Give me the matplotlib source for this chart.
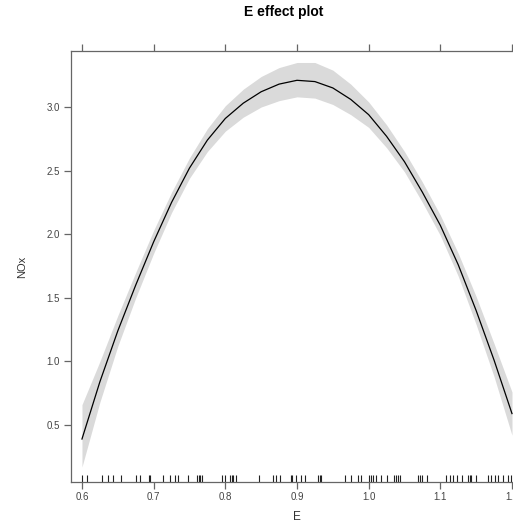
import matplotlib
matplotlib.use("Agg")
import matplotlib.pyplot as plt

plt.rcParams["font.family"] = ["Liberation Sans", "DejaVu Sans"]

# effet de E sur NOx
e_vals = [0.600, 0.625, 0.650, 0.675, 0.700, 0.725, 0.750, 0.775, 0.800,
          0.825, 0.850, 0.875, 0.900, 0.925, 0.950, 0.975, 1.000, 1.025,
          1.050, 1.075, 1.100, 1.125, 1.150, 1.175, 1.200]
nox_fit = [0.39, 0.84, 1.24, 1.60, 1.94, 2.25, 2.52, 2.74, 2.91,
           3.03, 3.12, 3.18, 3.21, 3.20, 3.15, 3.06, 2.94, 2.77,
           2.57, 2.33, 2.07, 1.76, 1.40, 1.01, 0.59]
nox_lower = [0.17, 0.68, 1.12, 1.50, 1.85, 2.17, 2.44, 2.65, 2.81,
             2.92, 3.00, 3.05, 3.08, 3.07, 3.02, 2.94, 2.84, 2.68,
             2.49, 2.25, 1.99, 1.67, 1.29, 0.88, 0.42]
nox_upper = [0.66, 1.00, 1.36, 1.70, 2.03, 2.33, 2.60, 2.83, 3.01,
             3.14, 3.24, 3.31, 3.35, 3.35, 3.29, 3.18, 3.04, 2.86,
             2.65, 2.41, 2.15, 1.85, 1.51, 1.14, 0.76]

# observations (rug)
rug_e = [0.600, 0.607, 0.628, 0.636, 0.644, 0.655, 0.675, 0.681, 0.693,
         0.695, 0.713, 0.723, 0.730, 0.734, 0.748, 0.761, 0.763, 0.765,
         0.767, 0.796, 0.799, 0.807, 0.809, 0.811, 0.815, 0.847, 0.867,
         0.871, 0.877, 0.891, 0.893, 0.899, 0.905, 0.911, 0.930, 0.932,
         0.934, 0.967, 0.976, 0.985, 0.990, 1.001, 1.003, 1.006, 1.010,
         1.017, 1.026, 1.035, 1.038, 1.041, 1.044, 1.069, 1.071, 1.074,
         1.081, 1.108, 1.113, 1.118, 1.123, 1.130, 1.139, 1.141, 1.143,
         1.150, 1.167, 1.171, 1.176, 1.181, 1.188, 1.195, 1.199]

x_ticks = [0.6, 0.7, 0.8, 0.9, 1.0, 1.1, 1.2]
y_ticks = [0.5, 1.0, 1.5, 2.0, 2.5, 3.0]

fig = plt.figure(figsize=(5.13, 5.29), dpi=100)
# l'axe depasse a droite comme dans l'image d'origine (recadree)
ax = fig.add_axes([0.1384, 0.0888, 0.881, 0.8147])

ax.fill_between(e_vals, nox_lower, nox_upper, color="#dadada", linewidth=0)
ax.plot(e_vals, nox_fit, color="black", linewidth=0.9)
ax.vlines(rug_e, 0, 0.016, transform=ax.get_xaxis_transform(),
          color="#222222", linewidth=0.8)

ax.set_xlim(0.5847, 1.2153)
ax.set_ylim(0.052, 3.44)
ax.set_xticks(x_ticks)
ax.set_xticklabels(["0.6", "0.7", "0.8", "0.9", "1.0", "1.1", "1.2"])
ax.set_yticks(y_ticks)

for s in ax.spines.values():
    s.set_color("#666666")
    s.set_linewidth(0.9)
ax.tick_params(axis="both", direction="out", length=5, width=0.9,
               color="#666666", labelcolor="#444444", labelsize=7)
ax.tick_params(axis="x", top=True, labeltop=False, pad=2)
ax.tick_params(axis="y", right=False, pad=3)

ax.set_xlabel("E", fontsize=8.5, color="#333333", labelpad=7)
ax.set_ylabel("NOx", fontsize=8, color="#333333", labelpad=14)
fig.text(0.553, 0.977, "E effect plot", ha="center", va="center",
         fontsize=10, fontweight="bold")

fig.savefig("out.png", dpi=100)
plt.close(fig)
